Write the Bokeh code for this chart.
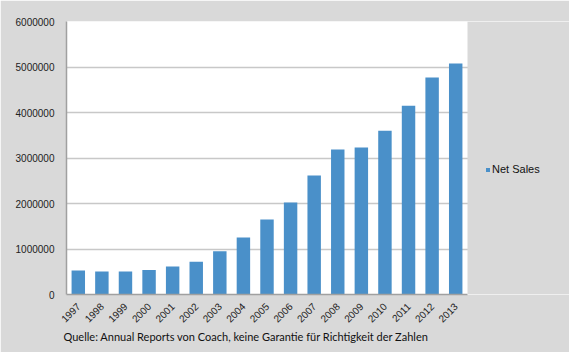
from bokeh.plotting import figure
from bokeh.models import (ColumnDataSource, FixedTicker, BasicTickFormatter, Legend, LegendItem,
                          Title, Range1d, BoxAnnotation)
from bokeh.embed import file_html
from bokeh.resources import INLINE
import math

years = ["1997", "1998", "1999", "2000", "2001", "2002", "2003", "2004", "2005",
         "2006", "2007", "2008", "2009", "2010", "2011", "2012", "2013"]
net_sales = [530000, 508000, 507000, 537000, 616000, 719000, 953000, 1252000, 1648000,
             2020000, 2615000, 3187000, 3230000, 3600000, 4150000, 4770000, 5077000]
y_ticks = [0, 1000000, 2000000, 3000000, 4000000, 5000000, 6000000]
series_name = "Net Sales"
caption = "Quelle: Annual Reports von Coach, keine Garantie für Richtigkeit der Zahlen"

pos = list(range(len(years)))
src = ColumnDataSource(data=dict(x=pos, year=years, sales=net_sales))

n = len(years)
frame_w = 569 - 66
units = frame_w * n / 401.0
p = figure(width=569, height=352, x_range=Range1d(-0.5, -0.5 + units), y_range=Range1d(0, 6000000),
           output_backend="svg", toolbar_location=None,
           min_border_left=66, min_border_right=0, min_border_top=21, min_border_bottom=58)
p.background_fill_color = "white"
p.border_fill_color = "#d9d9d9"
p.outline_line_color = None

r = p.vbar(x="x", top="sales", width=0.57, source=src, fill_color="#4a90c9", line_color=None)

p.xgrid.grid_line_color = None
p.ygrid.grid_line_color = "#c8c8c8"
p.ygrid.grid_line_width = 1.5

p.yaxis.ticker = FixedTicker(ticks=y_ticks)
p.yaxis.formatter = BasicTickFormatter(use_scientific=False)
p.xaxis.ticker = FixedTicker(ticks=pos)
p.xaxis.major_label_overrides = {i: y for i, y in zip(pos, years)}
p.xaxis.bounds = (-0.5, n - 0.5)
for ax in (p.xaxis[0], p.yaxis[0]):
    ax.axis_line_color = "#a0a0a0"
    ax.axis_line_width = 1.5
    ax.major_tick_line_color = None
    ax.minor_tick_line_color = None
    ax.major_label_text_font = "Liberation Sans"
    ax.major_label_text_font_size = "10px"
    ax.major_label_text_color = "#222222"
p.yaxis.major_label_standoff = 6
p.xaxis.major_label_standoff = 4
p.xaxis.major_label_orientation = math.pi / 4

cover = BoxAnnotation(left=n - 0.5, fill_color="#d9d9d9", fill_alpha=1.0, line_color=None)
p.add_layout(cover)

legend = Legend(items=[LegendItem(label=series_name, renderers=[r])],
                location=(419, 119), background_fill_alpha=0, border_line_color=None,
                label_text_font="Liberation Sans", label_text_font_size="11px",
                label_text_color="#111111",
                glyph_width=5, glyph_height=5, label_standoff=2, padding=0, margin=0)
p.add_layout(legend, "center")

cap = Title(text=caption, align="left", offset=-3, standoff=-1,
            text_font="Lato", text_font_size="11px", text_font_style="normal",
            text_color="#111111")
p.add_layout(cap, "below")

open("out.html", "w").write(file_html(p, INLINE))
